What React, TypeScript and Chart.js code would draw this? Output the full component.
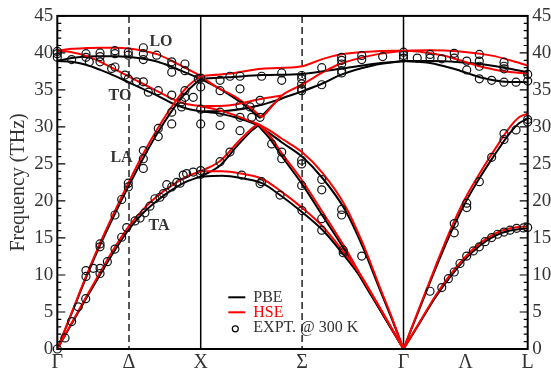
import React, { useEffect, useRef } from 'react';
import { Chart, registerables } from 'chart.js';

Chart.register(...registerables);

type P = [number, number];

// Path positions of the high-symmetry points (units of 2π/a): Γ–X, X–Γ along [110], Γ–L
const G1 = 0;
const PX = 1;
const G2 = 1 + Math.SQRT2;
const PL = G2 + Math.sqrt(3) / 2;
const DELTA = 0.5;
const SIGMA = PX + Math.SQRT2 / 2;
const LAMBDA = G2 + Math.sqrt(3) / 4;

const symLabels = ['Γ', 'Δ', 'X', 'Σ', 'Γ', 'Λ', 'L'];
const symPositions = [G1, DELTA, PX, SIGMA, G2, LAMBDA, PL];

// ---- PBE branches (THz) ----
const pbeTA_GX: P[] = [[0, 0], [0.1, 3.4], [0.2, 6.8], [0.3, 10.1], [0.4, 13.3], [0.5, 16.2], [0.6, 18.4], [0.7, 20.1], [0.8, 21.5], [0.9, 22.6], [1, 23.3]];
const pbeLA_GX: P[] = [[0, 0], [0.1, 4.8], [0.2, 9.6], [0.3, 14.1], [0.4, 18.2], [0.5, 22.1], [0.6, 25.8], [0.7, 29.2], [0.8, 32.2], [0.9, 34.7], [1, 36.5]];
const pbeTO_GX: P[] = [[0, 38.9], [0.1, 38.8], [0.2, 38.4], [0.3, 37.7], [0.4, 36.9], [0.5, 36.0], [0.6, 35.1], [0.7, 34.2], [0.8, 33.2], [0.9, 32.5], [1, 32.1]];
const pbeLO_GX: P[] = [[0, 38.9], [0.1, 39.3], [0.2, 39.5], [0.3, 39.55], [0.4, 39.55], [0.5, 39.45], [0.6, 39.2], [0.7, 38.8], [0.8, 38.1], [0.9, 37.3], [1, 36.5]];

const pbeO1_XG: P[] = [[1, 36.5], [1.19, 36.7], [1.427, 37.0], [1.706, 37.15], [1.971, 37.85], [2.201, 38.5], [2.4142, 38.9]];
const pbeO2a_XG: P[] = [[1, 36.5], [1.1, 35.5], [1.204, 34.3], [1.309, 32.9], [1.414, 31.2]];
const pbeO2b_XG: P[] = [[1.414, 31.2], [1.483, 32.6], [1.539, 33.6], [1.567, 33.85], [1.706, 34.8], [1.853, 35.9], [1.971, 37.0], [2.201, 38.3], [2.4142, 38.9]];
const pbeTOa_XG: P[] = [[1, 32.1], [1.19, 32.2], [1.427, 33.0], [1.567, 33.85]];
const pbeTOb_XG: P[] = [[1, 32.1], [1.135, 31.8], [1.309, 30.9], [1.4, 30.2]];
const pbeTA2_XG: P[] = [[1, 23.3], [1.135, 24.8], [1.262, 27.6], [1.356, 29.5], [1.4, 30.2]];
const pbeA_XG: P[] = [[1.4, 30.2], [1.483, 29.1], [1.567, 27.9], [1.706, 26.0], [1.853, 23.0], [2.006, 18.8], [2.125, 14.0], [2.25, 8.0], [2.334, 4.0], [2.4142, 0]];
const pbeB_XG: P[] = [[1.4, 30.2], [1.483, 28.4], [1.567, 26.0], [1.706, 22.3], [1.853, 17.9], [2.006, 13.3], [2.146, 8.6], [2.285, 4.2], [2.4142, 0]];
const pbeTA1_XG: P[] = [[1, 23.3], [1.15, 23.4], [1.28, 23.1], [1.427, 22.4], [1.553, 20.8], [1.706, 18.5], [1.853, 16.0], [1.985, 13.0], [2.125, 9.4], [2.271, 4.6], [2.4142, 0]];

const pbeTA_GL: P[] = [[2.4142, 0], [2.529, 3.6], [2.634, 6.9], [2.739, 9.7], [2.843, 12.1], [2.948, 14.0], [3.052, 15.3], [3.157, 16.0], [3.2802, 16.3]];
const pbeLA_GL: P[] = [[2.4142, 0], [2.529, 5.6], [2.634, 10.7], [2.739, 15.5], [2.843, 19.7], [2.948, 23.2], [3.052, 26.3], [3.157, 29.2], [3.22, 30.5], [3.2802, 31.1]];
const pbeTO_GL: P[] = [[2.4142, 38.9], [2.576, 38.7], [2.7, 38.2], [2.808, 37.6], [2.971, 36.6], [3.1, 36.15], [3.2802, 36.05]];
const pbeLO_GL: P[] = [[2.4142, 38.9], [2.6, 38.9], [2.808, 38.75], [2.948, 38.5], [3.088, 38.1], [3.2, 37.7], [3.2802, 37.4]];

// ---- HSE branches (THz) ----
const hseTA_GX: P[] = [[0, 0], [0.1, 3.5], [0.2, 7.0], [0.3, 10.4], [0.4, 13.7], [0.5, 16.6], [0.6, 18.9], [0.7, 20.7], [0.8, 22.1], [0.9, 23.3], [1, 24.0]];
const hseLA_GX: P[] = [[0, 0], [0.1, 4.9], [0.2, 9.8], [0.3, 14.4], [0.4, 18.6], [0.5, 22.6], [0.6, 26.4], [0.7, 29.8], [0.8, 32.8], [0.9, 35.3], [1, 36.9]];
const hseTO_GX: P[] = [[0, 40.3], [0.1, 40.1], [0.2, 39.6], [0.3, 38.8], [0.4, 37.8], [0.5, 36.8], [0.6, 35.8], [0.7, 34.8], [0.8, 33.8], [0.9, 33.1], [1, 32.8]];
const hseLO_GX: P[] = [[0, 40.3], [0.1, 40.55], [0.2, 40.65], [0.3, 40.7], [0.4, 40.7], [0.5, 40.6], [0.6, 40.3], [0.7, 39.8], [0.8, 38.9], [0.9, 37.9], [1, 36.9]];

const hseO1_XG: P[] = [[1, 36.9], [1.19, 37.2], [1.427, 37.85], [1.706, 38.2], [1.853, 39.2], [1.971, 39.8], [2.201, 40.2], [2.4142, 40.3]];
const hseO2a_XG: P[] = [[1, 36.9], [1.1, 35.5], [1.239, 34.1], [1.356, 32.45], [1.427, 31.3]];
const hseO2b_XG: P[] = [[1.427, 31.3], [1.448, 31.7], [1.567, 34.25], [1.706, 35.7], [1.853, 37.4], [1.971, 38.5], [2.201, 39.7], [2.4142, 40.3]];
const hseTOa_XG: P[] = [[1, 32.8], [1.19, 32.9], [1.427, 33.8], [1.567, 34.25]];
const hseTOb_XG: P[] = [[1, 32.8], [1.1, 32.4], [1.239, 31.6], [1.344, 30.8], [1.4, 30.4]];
const hseTA2_XG: P[] = [[1, 24.0], [1.135, 25.4], [1.262, 28.0], [1.356, 29.8], [1.4, 30.4]];
const hseA_XG: P[] = [[1.4, 30.4], [1.483, 29.5], [1.567, 28.4], [1.706, 26.6], [1.853, 23.7], [2.006, 19.4], [2.125, 14.5], [2.25, 8.3], [2.334, 4.2], [2.4142, 0]];
const hseB_XG: P[] = [[1.4, 30.4], [1.483, 28.8], [1.567, 26.4], [1.706, 22.8], [1.853, 18.4], [2.006, 13.7], [2.146, 8.9], [2.285, 4.4], [2.4142, 0]];
const hseTA1_XG: P[] = [[1, 24.0], [1.15, 24.0], [1.28, 23.7], [1.427, 23.0], [1.553, 21.4], [1.706, 19.1], [1.853, 16.5], [1.985, 13.4], [2.125, 9.7], [2.271, 4.8], [2.4142, 0]];

const hseTA_GL: P[] = [[2.4142, 0], [2.529, 3.7], [2.634, 7.1], [2.739, 10.0], [2.843, 12.4], [2.948, 14.3], [3.052, 15.6], [3.157, 16.3], [3.2802, 16.6]];
const hseLA_GL: P[] = [[2.4142, 0], [2.529, 5.8], [2.634, 11.0], [2.739, 16.0], [2.843, 20.3], [2.948, 23.8], [3.052, 27.0], [3.157, 30.0], [3.22, 31.3], [3.2802, 31.8]];
const hseTO_GL: P[] = [[2.4142, 40.3], [2.55, 40.1], [2.692, 39.65], [2.808, 39.0], [2.925, 38.3], [3.088, 37.6], [3.2802, 37.2]];
const hseLO_GL: P[] = [[2.4142, 40.3], [2.6, 40.35], [2.808, 40.2], [2.948, 39.9], [3.04, 39.6], [3.157, 39.0], [3.2802, 38.3]];

// ---- Inelastic scattering data at 300 K (THz) ----
const exptGX: P[] = [
  [0, 0], [0.054, 1.5], [0.1, 3.7], [0.146, 5.7], [0.198, 6.8], [0.2, 10.6], [0.2, 9.8], [0.251, 10.9], [0.298, 10.9], [0.298, 10.2],
  [0.298, 14.2], [0.298, 13.8], [0.349, 11.8], [0.402, 13.5], [0.402, 18.1], [0.449, 15.1], [0.449, 20.2], [0.484, 16.4], [0.495, 22.4], [0.495, 21.9],
  [0.542, 17.3], [0.577, 17.7], [0.611, 18.4], [0.646, 19.3], [0.681, 20.3], [0.716, 20.5], [0.74, 21.0], [0.763, 22.2], [0.798, 21.9], [0.833, 22.5],
  [0.856, 22.4], [0.878, 23.5], [0.902, 23.7], [0.948, 23.9],
  [0, 40.2], [0, 39.9], [0, 39.4], [0.1, 39.1], [0.2, 39.9], [0.2, 39.4], [0.223, 38.8], [0.298, 40.0], [0.298, 39.5], [0.298, 38.8],
  [0.379, 37.9], [0.402, 40.3], [0.402, 39.9], [0.402, 38.1], [0.472, 37.0], [0.495, 40.1], [0.495, 39.7], [0.495, 36.5], [0.553, 36.1],
  [0.6, 40.7], [0.6, 39.9], [0.6, 39.1], [0.6, 36.1], [0.6, 26.8], [0.6, 25.7], [0.6, 24.4], [0.635, 34.7], [0.693, 39.7], [0.704, 34.9],
  [0.704, 29.8], [0.704, 28.7], [0.798, 38.8], [0.798, 38.4], [0.798, 37.4], [0.798, 34.3], [0.798, 32.0], [0.798, 30.4], [0.867, 33.4],
  [0.867, 32.7], [0.89, 38.5], [0.89, 37.6], [0.89, 34.9], [0.89, 34.0], [0.948, 34.0], [0.983, 36.5],
];
const exptXG: P[] = [
  [1, 36.6], [1, 35.4], [1, 32.4], [1, 30.4], [1, 24.1], [1, 23.6],
  [1.135, 36.3], [1.135, 34.9], [1.204, 36.85], [1.274, 36.85], [1.274, 35.15], [1.425, 36.85], [1.565, 37.3], [1.565, 36.3],
  [1.704, 36.95], [1.704, 36.5], [1.704, 35.8], [1.704, 35.15], [1.704, 34.9],
  [1.274, 32.9], [1.344, 32.7], [1.414, 33.6], [1.414, 31.3], [1.356, 31.3], [1.135, 32.0], [1.135, 30.2], [1.274, 31.3], [1.274, 29.5],
  [1.204, 26.6], [1.135, 25.3], [1.286, 23.5], [1.425, 22.6], [1.495, 27.7], [1.565, 26.6], [1.565, 25.7], [1.704, 25.5], [1.704, 25.0],
  [1.704, 22.1], [1.706, 18.7], [1.844, 22.9], [1.844, 21.5], [1.983, 18.85], [1.983, 18.1], [1.844, 17.6], [1.844, 16.05], [1.994, 13.35],
  [1.994, 13.0], [2.123, 12.55], [1.553, 20.8], [1.414, 22.35],
  [1.844, 38.0], [1.844, 35.7], [1.983, 39.4], [1.983, 39.0], [1.983, 38.5], [1.983, 37.6], [1.983, 37.3], [2.123, 39.65], [2.123, 39.1],
  [2.269, 39.5], [2.4142, 39.65], [2.4142, 40.1], [2.4142, 39.3],
];
const exptGL: P[] = [
  [2.51, 39.3], [2.599, 39.8], [2.599, 39.3], [2.681, 39.2], [2.768, 39.95], [2.768, 39.3], [2.855, 38.9], [2.855, 37.7], [2.943, 39.8],
  [2.943, 38.9], [2.943, 38.2], [2.943, 36.5], [3.029, 36.3], [3.115, 38.75], [3.115, 38.2], [3.115, 37.85], [3.115, 36.05], [3.199, 36.05],
  [3.2802, 37.1], [3.2802, 36.2],
  [3.029, 25.9], [3.115, 29.1], [3.115, 28.3], [3.199, 29.6], [3.2802, 31.0], [3.2802, 30.65], [2.768, 16.95], [2.768, 15.7], [2.855, 19.7],
  [2.855, 19.1], [2.943, 22.6], [2.599, 7.8],
  [2.681, 8.3], [2.727, 9.5], [2.768, 10.4], [2.808, 11.55], [2.855, 12.55], [2.901, 13.25], [2.943, 13.8], [2.983, 14.5], [3.029, 15.05],
  [3.071, 15.5], [3.115, 15.8], [3.157, 16.05], [3.203, 16.3], [3.25, 16.35], [3.2802, 16.4],
];

const pbeBranches = [pbeTA_GX, pbeLA_GX, pbeTO_GX, pbeLO_GX, pbeO1_XG, pbeO2a_XG, pbeO2b_XG, pbeTOa_XG, pbeTOb_XG, pbeTA2_XG, pbeA_XG, pbeB_XG, pbeTA1_XG, pbeTA_GL, pbeLA_GL, pbeTO_GL, pbeLO_GL];
const hseBranches = [hseTA_GX, hseLA_GX, hseTO_GX, hseLO_GX, hseO1_XG, hseO2a_XG, hseO2b_XG, hseTOa_XG, hseTOb_XG, hseTA2_XG, hseA_XG, hseB_XG, hseTA1_XG, hseTA_GL, hseLA_GL, hseTO_GL, hseLO_GL];
const exptPoints = [...exptGX, ...exptXG, ...exptGL];

// Branch names placed in data coordinates
const branchNames = [
  { text: 'LO', x: 0.723, y: 41.5 },
  { text: 'TO', x: 0.437, y: 34.2 },
  { text: 'LA', x: 0.448, y: 25.8 },
  { text: 'TA', x: 0.709, y: 16.7 },
];

const SERIF = "'Liberation Serif', 'Times New Roman', serif";
const TEXT = '#333';

const toXY = (pts: P[]) => pts.map(([x, y]) => ({ x, y }));

const branchDataset = (pts: P[], color: string, order: number) => ({
  data: toXY(pts),
  borderColor: color,
  backgroundColor: color,
  borderWidth: 2,
  pointRadius: 0,
  pointHoverRadius: 0,
  fill: false,
  cubicInterpolationMode: 'monotone' as const,
  order,
});

const decorPlugin = {
  id: 'phononDecor',
  beforeDatasetsDraw(chart: any) {
    const { ctx, chartArea: a } = chart;
    const xs = chart.scales.x;
    ctx.save();
    ctx.strokeStyle = '#000';
    ctx.lineWidth = 1.5;
    for (const v of [PX, G2]) {
      const px = xs.getPixelForValue(v);
      ctx.beginPath();
      ctx.moveTo(px, a.top);
      ctx.lineTo(px, a.bottom);
      ctx.stroke();
    }
    ctx.strokeStyle = '#222';
    ctx.setLineDash([7, 4]);
    for (const v of [DELTA, SIGMA]) {
      const px = xs.getPixelForValue(v);
      ctx.beginPath();
      ctx.moveTo(px, a.top);
      ctx.lineTo(px, a.bottom);
      ctx.stroke();
    }
    ctx.restore();
  },
  afterDatasetsDraw(chart: any) {
    const { ctx, chartArea: a } = chart;
    const xs = chart.scales.x;
    const ys = chart.scales.y;
    ctx.save();

    // inward tick marks on both vertical axes
    ctx.strokeStyle = '#000';
    ctx.lineWidth = 1.2;
    for (let v = 0; v <= 45; v++) {
      const py = ys.getPixelForValue(v);
      const len = v % 5 === 0 ? 8 : 4;
      ctx.beginPath();
      ctx.moveTo(a.left, py);
      ctx.lineTo(a.left + len, py);
      ctx.moveTo(a.right, py);
      ctx.lineTo(a.right - len, py);
      ctx.stroke();
    }

    // frame
    ctx.lineWidth = 2;
    ctx.strokeRect(a.left, a.top, a.right - a.left, a.bottom - a.top);

    // branch names
    ctx.fillStyle = TEXT;
    ctx.font = `bold 16px ${SERIF}`;
    ctx.textAlign = 'center';
    ctx.textBaseline = 'middle';
    for (const b of branchNames) {
      ctx.fillText(b.text, xs.getPixelForValue(b.x), ys.getPixelForValue(b.y));
    }

    // legend
    const lx = a.left + 171;
    const tx = a.left + 196;
    const r1 = a.bottom - 51.7;
    const r2 = r1 + 15;
    const r3 = r2 + 15;
    ctx.lineWidth = 2;
    ctx.strokeStyle = '#000';
    ctx.beginPath();
    ctx.moveTo(lx, r1);
    ctx.lineTo(lx + 17, r1);
    ctx.stroke();
    ctx.strokeStyle = 'red';
    ctx.beginPath();
    ctx.moveTo(lx, r2);
    ctx.lineTo(lx + 17, r2);
    ctx.stroke();
    ctx.strokeStyle = '#000';
    ctx.lineWidth = 1.2;
    ctx.beginPath();
    ctx.arc(lx + 7, r3 + 1.5, 3, 0, Math.PI * 2);
    ctx.stroke();

    ctx.font = `16px ${SERIF}`;
    ctx.textAlign = 'left';
    ctx.textBaseline = 'alphabetic';
    ctx.fillStyle = TEXT;
    ctx.fillText('PBE', tx, r1 + 4.5);
    ctx.fillStyle = 'red';
    ctx.fillText('HSE', tx, r2 + 4.5);
    ctx.fillStyle = TEXT;
    ctx.fillText('EXPT. @ 300 K', tx, r3 + 4.5);

    ctx.restore();
  },
};

export default function App() {
  const ref = useRef<HTMLCanvasElement>(null);

  useEffect(() => {
    if (!ref.current) return;
    const datasets: any[] = [
      {
        data: toXY(exptPoints),
        showLine: false,
        pointRadius: 4,
        pointHoverRadius: 4,
        pointBorderWidth: 1.2,
        pointBorderColor: '#111',
        pointBackgroundColor: 'rgba(0,0,0,0)',
        borderColor: '#111',
        clip: false,
        order: 0,
      },
      ...hseBranches.map((b) => branchDataset(b, 'red', 1)),
      ...pbeBranches.map((b) => branchDataset(b, '#000', 2)),
    ];

    const tickFont = { family: SERIF, size: 19 };
    const chart = new Chart(ref.current, {
      type: 'line',
      data: { datasets },
      plugins: [decorPlugin],
      options: {
        responsive: false,
        animation: false,
        devicePixelRatio: 1,
        layout: { padding: { top: 15.5, left: 0, right: 0, bottom: 0 } },
        plugins: { legend: { display: false }, tooltip: { enabled: false } },
        scales: {
          x: {
            type: 'linear',
            min: G1,
            max: PL,
            grid: { display: false, drawTicks: false },
            border: { display: false },
            afterBuildTicks: (s: any) => {
              s.ticks = symPositions.map((v) => ({ value: v }));
            },
            afterFit: (s: any) => {
              s.height = 19;
            },
            ticks: {
              autoSkip: false,
              maxRotation: 0,
              padding: 2,
              color: TEXT,
              font: { family: SERIF, size: 20 },
              callback: (_v: any, i: number) => symLabels[i],
            },
          },
          y: {
            position: 'left',
            min: 0,
            max: 45,
            grid: { display: false, drawTicks: false },
            border: { display: false },
            ticks: { stepSize: 5, padding: 4, color: TEXT, font: tickFont },
            title: {
              display: true,
              text: 'Frequency (THz)',
              color: TEXT,
              font: { family: SERIF, size: 20 },
              padding: { top: 7, bottom: 0 },
            },
            afterFit: (s: any) => {
              s.width = 57.3;
            },
          },
          y2: {
            position: 'right',
            min: 0,
            max: 45,
            grid: { display: false, drawTicks: false },
            border: { display: false },
            ticks: { stepSize: 5, padding: 4.5, color: TEXT, font: tickFont },
            afterFit: (s: any) => {
              s.width = 551 - 527.7;
            },
          },
        },
      } as any,
    });
    return () => chart.destroy();
  }, []);

  return (
    <div style={{ position: 'fixed', left: 0, top: 0, width: 551, height: 368, overflow: 'hidden', background: '#fff' }}>
      <canvas ref={ref} width={551} height={368} style={{ display: 'block', width: 551, height: 368 }} />
    </div>
  );
}
